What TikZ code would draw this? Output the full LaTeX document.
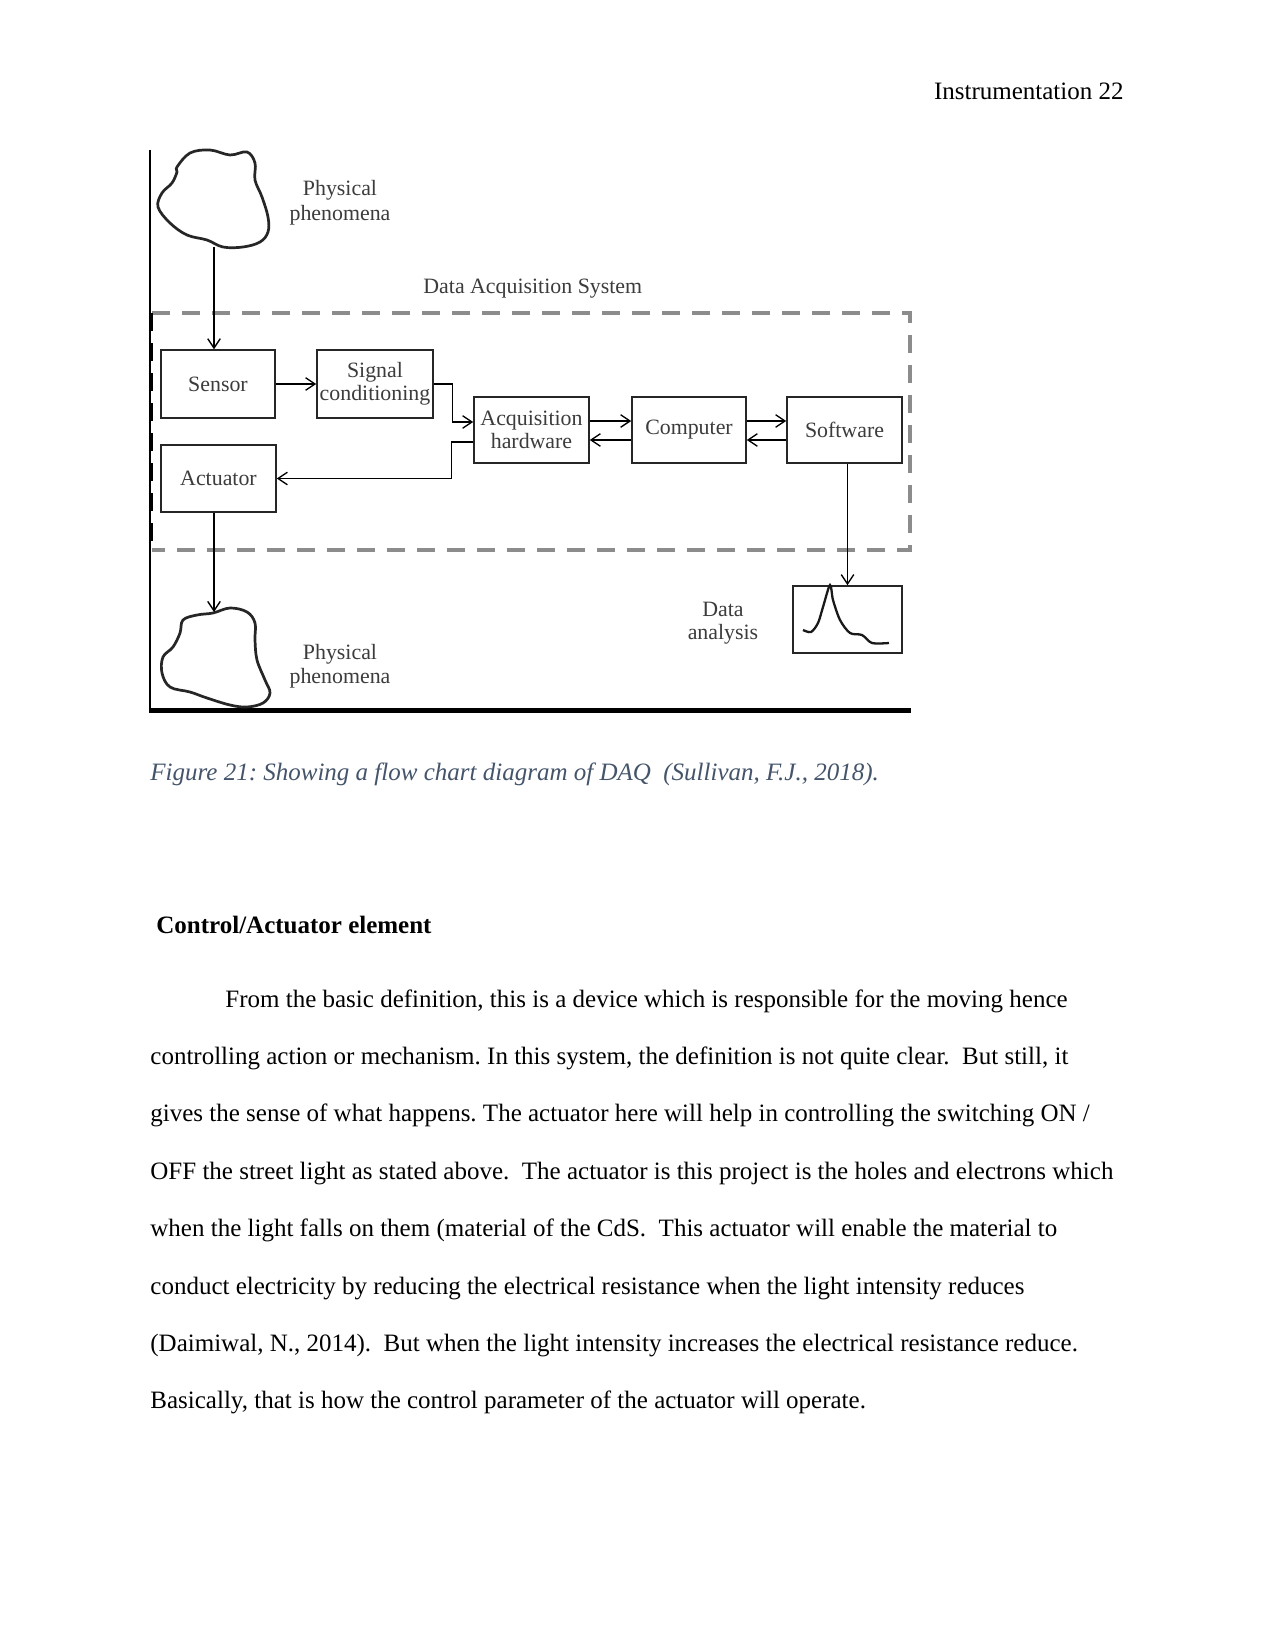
\documentclass[tikz,border=0pt]{standalone}
\usepackage{fontspec}
\setmainfont{Liberation Serif}
\usetikzlibrary{arrows.meta,calc}
\definecolor{dgray}{HTML}{3C3C3C}
\definecolor{dashgray}{HTML}{8C8C8C}
\definecolor{capblue}{HTML}{44546A}
\frenchspacing
\begin{document}
\begin{tikzpicture}[x=0.48pt,y=-0.48pt,
  box/.style={draw=black!85, line width=0.75pt, inner sep=0pt, align=center,
    font=\fontsize{10.5}{11}\selectfont, text=dgray},
  lab/.style={inner sep=0pt, anchor=base, font=\fontsize{10.5}{11}\selectfont, text=dgray},
  arr/.style={-{Straight Barb[length=4.5pt,width=6pt]}, line width=0.65pt},
  cloudline/.style={line width=1.3pt, black!85},
  daqdash/.style={dashgray, line width=1.6pt, dash pattern=on 8.6pt off 5.8pt},
  body/.style={inner sep=0pt, anchor=base west, font=\fontsize{12}{12}\selectfont}]
\useasboundingbox[fill=white] (0,0) rectangle (1275,1651);

% frame of figure
\draw[line width=0.6pt] (150,150) -- (150,710);
\draw[line width=2.4pt] (149,710) -- (911,710);

% dashed DAQ box
\draw[daqdash] (152,313) -- (910,313) -- (910,550) -- (152,550);
\draw[black, line width=1.2pt, dash pattern=on 8.6pt off 5.8pt] (152,313) -- (152,550);

% clouds
\draw[cloudline] plot[smooth cycle, tension=0.6] coordinates {
 (177,167) (190,153) (210,150) (230,155) (247,152) (255,163) (255,180) (262,197)
 (268,217) (268,232) (260,242) (243,247) (223,247) (207,240) (187,235) (170,223)
 (158,207) (162,193) (172,183) (177,172)};
\coordinate (cloudA) at (214,247);
\draw[cloudline] plot[smooth cycle, tension=0.6] coordinates {
 (213,613) (230,608) (247,612) (255,623) (255,640) (257,660) (265,680) (270,693)
 (263,703) (247,707) (230,705) (207,698) (190,692) (170,687) (162,673) (163,657)
 (173,647) (180,633) (183,620) (197,615)};
\coordinate (cloudB) at (214,612);

% boxes
\node[box, minimum width=54.7pt, minimum height=32.6pt] (sensor) at (218,384) {Sensor};
\node[box, minimum width=55.7pt, minimum height=32.6pt] (signal) at (375,384) {Signal\\conditioning};
\node[box, minimum width=55.2pt, minimum height=31.7pt] (acq) at (531.5,430) {Acquisition\\hardware};
\node[box, minimum width=54.7pt, minimum height=31.7pt] (comp) at (689,430) {Computer};
\node[box, minimum width=55.2pt, minimum height=31.7pt] (soft) at (844.5,430) {Software};
\node[box, minimum width=55.2pt, minimum height=32.2pt] (act) at (218.5,478.5) {Actuator};
\node[box, minimum width=52.3pt, minimum height=32.2pt] (dbox) at (847.5,619.5) {};

% data curve
\draw[line width=1.1pt, black!90] plot[smooth, tension=0.5] coordinates {
 (803,630) (811,632) (818,623) (823,607) (830,585) (833,600) (840,620) (850,633)
 (862,635) (872,643) (889,643)};

% labels
\node[lab] (p1a) at (340,196) {Physical};
\node[lab] (p1b) at (340,221) {phenomena};
\node[lab, anchor=base west] (daqs) at (423,293) {Data Acquisition System};
\node[lab] (p2a) at (340,659) {Physical};
\node[lab] (p2b) at (340,683) {phenomena};
\node[lab] (da1) at (723,616) {Data};
\node[lab] (da2) at (723,639) {analysis};

% connectors
\draw[arr] (cloudA) -- (cloudA |- sensor.north);
\draw[arr] (sensor.east) -- (signal.west);
\draw[arr] (signal.east) -- ++(19,0) |- ($(acq.west)+(0,-8)$);
\draw[arr] ($(acq.west)+(0,12)$) -- ++(-22,0) |- (act.east);
\draw[arr] ($(acq.east)+(0,-9)$) -- ($(comp.west)+(0,-9)$);
\draw[arr] ($(comp.west)+(0,10)$) -- ($(acq.east)+(0,10)$);
\draw[arr] ($(comp.east)+(0,-9)$) -- ($(soft.west)+(0,-9)$);
\draw[arr] ($(soft.west)+(0,10)$) -- ($(comp.east)+(0,10)$);
\draw[arr] (dbox.north |- soft.south) -- (dbox.north);
\draw[arr] (cloudB |- act.south) -- (cloudB);

% page text
\node[inner sep=0pt, anchor=base east, font=\fontsize{12}{12}\selectfont] (hdr) at (1124,100) {Instrumentation 22};
\node[body, font=\fontsize{12}{12}\selectfont\itshape, text=capblue] (cap) at (150,780)
  {Figure 21: Showing a flow chart diagram of DAQ\ \ (Sullivan, F.J., 2018).};
\node[body, font=\fontsize{12}{12}\selectfont\bfseries] (title) at (156,933) {Control/Actuator element};
\node[body] (l1) at (225,1007) {From the basic definition, this is a device which is responsible for the moving hence};
\node[body] (l2) at (150,1064.4) {controlling action or mechanism. In this system, the definition is not quite clear.\ \ But still, it};
\node[body] (l3) at (150,1121.8) {gives the sense of what happens. The actuator here will help in controlling the switching ON /};
\node[body] (l4) at (150,1179.2) {OFF the street light as stated above.\ \ The actuator is this project is the holes and electrons which};
\node[body] (l5) at (150,1236.6) {when the light falls on them (material of the CdS.\ \ This actuator will enable the material to};
\node[body] (l6) at (150,1294) {conduct electricity by reducing the electrical resistance when the light intensity reduces};
\node[body] (l7) at (150,1351.4) {(Daimiwal, N., 2014).\ \ But when the light intensity increases the electrical resistance reduce.};
\node[body] (l8) at (150,1408.8) {Basically, that is how the control parameter of the actuator will operate.};
\end{tikzpicture}
\end{document}
